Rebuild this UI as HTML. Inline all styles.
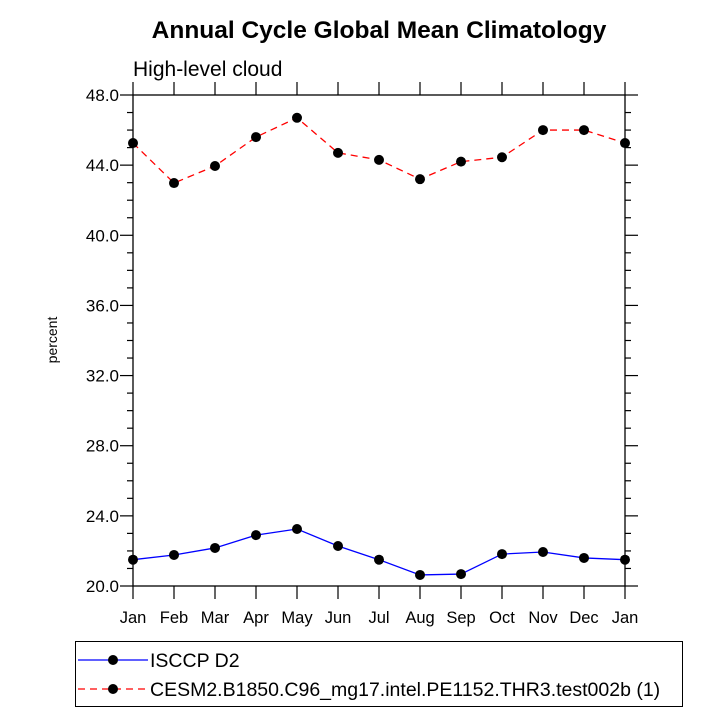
<!DOCTYPE html>
<html><head><meta charset="utf-8"><style>
body{margin:0;background:#fff;}
svg{display:block;font-family:"Liberation Sans",Arial,sans-serif;}
</style></head><body>
<svg id="chart" width="727" height="727">
<text x="379" y="38" text-anchor="middle" font-size="24.5" font-weight="bold">Annual Cycle Global Mean Climatology</text>
<text x="133" y="76" font-size="21">High-level cloud</text>
<text transform="translate(57,340) rotate(-90)" text-anchor="middle" font-size="14">percent</text>
<g id="axes"></g>
<g id="series"></g>
<rect x="75.5" y="641.5" width="607" height="65" fill="none" stroke="#000" stroke-width="1"/>
<g>
<line x1="78" y1="660" x2="148" y2="660" stroke="#0000ff" stroke-width="1.3"/>
<circle cx="113" cy="660" r="5" fill="#000"/>
<text x="150" y="667" font-size="19.5">ISCCP D2</text>
</g>
<g>
<line x1="78" y1="689" x2="148" y2="689" stroke="#ff0000" stroke-width="1.3" stroke-dasharray="7,5"/>
<circle cx="113" cy="689" r="5" fill="#000"/>
<text x="150" y="696" font-size="19.5">CESM2.B1850.C96_mg17.intel.PE1152.THR3.test002b (1)</text>
</g>
</svg>
<script>
const months = ["Jan","Feb","Mar","Apr","May","Jun","Jul","Aug","Sep","Oct","Nov","Dec","Jan"];
const isccpValues = [21.5,21.77,22.17,22.9,23.25,22.28,21.5,20.63,20.68,21.82,21.94,21.6,21.5];
const cesmValues = [45.26,42.98,43.95,45.6,46.7,44.7,44.3,43.2,44.2,44.45,46.0,46.0,45.26];
const yTicks = [20,24,28,32,36,40,44,48];
const yTickLabels = ["20.0","24.0","28.0","32.0","36.0","40.0","44.0","48.0"];

const X0=133,X1=625,Y0=586,Y1=95,YMIN=20,YMAX=48;
const xs=i=>X0+(X1-X0)*i/(months.length-1);
const ys=v=>Y0-(v-YMIN)/(YMAX-YMIN)*(Y0-Y1);
const NS="http://www.w3.org/2000/svg";
function mk(tag,attrs,parent){const e=document.createElementNS(NS,tag);for(const k in attrs)e.setAttribute(k,attrs[k]);parent.appendChild(e);return e;}
const axes=document.getElementById('axes');
const frame=mk('rect',{x:X0,y:Y1,width:X1-X0,height:Y0-Y1,fill:'none',stroke:'#000','stroke-width':1.3},axes);


for(let v=YMIN;v<=YMAX;v+=1){
  const y=ys(v),major=(v%4===0),L=major?13:6;
  mk('line',{x1:X0-L,y1:y,x2:X0,y2:y,stroke:'#000','stroke-width':1.2},axes);
  mk('line',{x1:X1,y1:y,x2:X1+L,y2:y,stroke:'#000','stroke-width':1.2},axes);
}
yTicks.forEach((v,i)=>{
  const t=mk('text',{x:X0-14,y:ys(v)+6,'text-anchor':'end','font-size':17},axes);
  t.textContent=yTickLabels[i];
  
  
});
months.forEach((m,i)=>{
  const x=xs(i);
  mk('line',{x1:x,y1:Y0,x2:x,y2:Y0+13,stroke:'#000','stroke-width':1.2},axes);
  mk('line',{x1:x,y1:Y1-13,x2:x,y2:Y1,stroke:'#000','stroke-width':1.2},axes);
  const t=mk('text',{x:x,y:Y0+37,'text-anchor':'middle','font-size':16.5},axes);
  t.textContent=m;
  
  
});
const series=document.getElementById('series');
function draw(vals,color,dash,name){
  const g=mk('g',{},series);
  
  
  const pts=vals.map((v,i)=>xs(i)+','+ys(v)).join(' ');
  const a={points:pts,fill:'none',stroke:color,'stroke-width':1.3};
  if(dash)a['stroke-dasharray']=dash;
  mk('polyline',a,g);
  vals.forEach((v,i)=>{
    const c=mk('circle',{cx:xs(i),cy:ys(v),r:5,fill:'#000'},g);
    
    
  });
}
draw(isccpValues,'#0000ff',null,'isccp-series');
draw(cesmValues,'#ff0000','7,5','cesm2-series');
</script>
</body></html>
